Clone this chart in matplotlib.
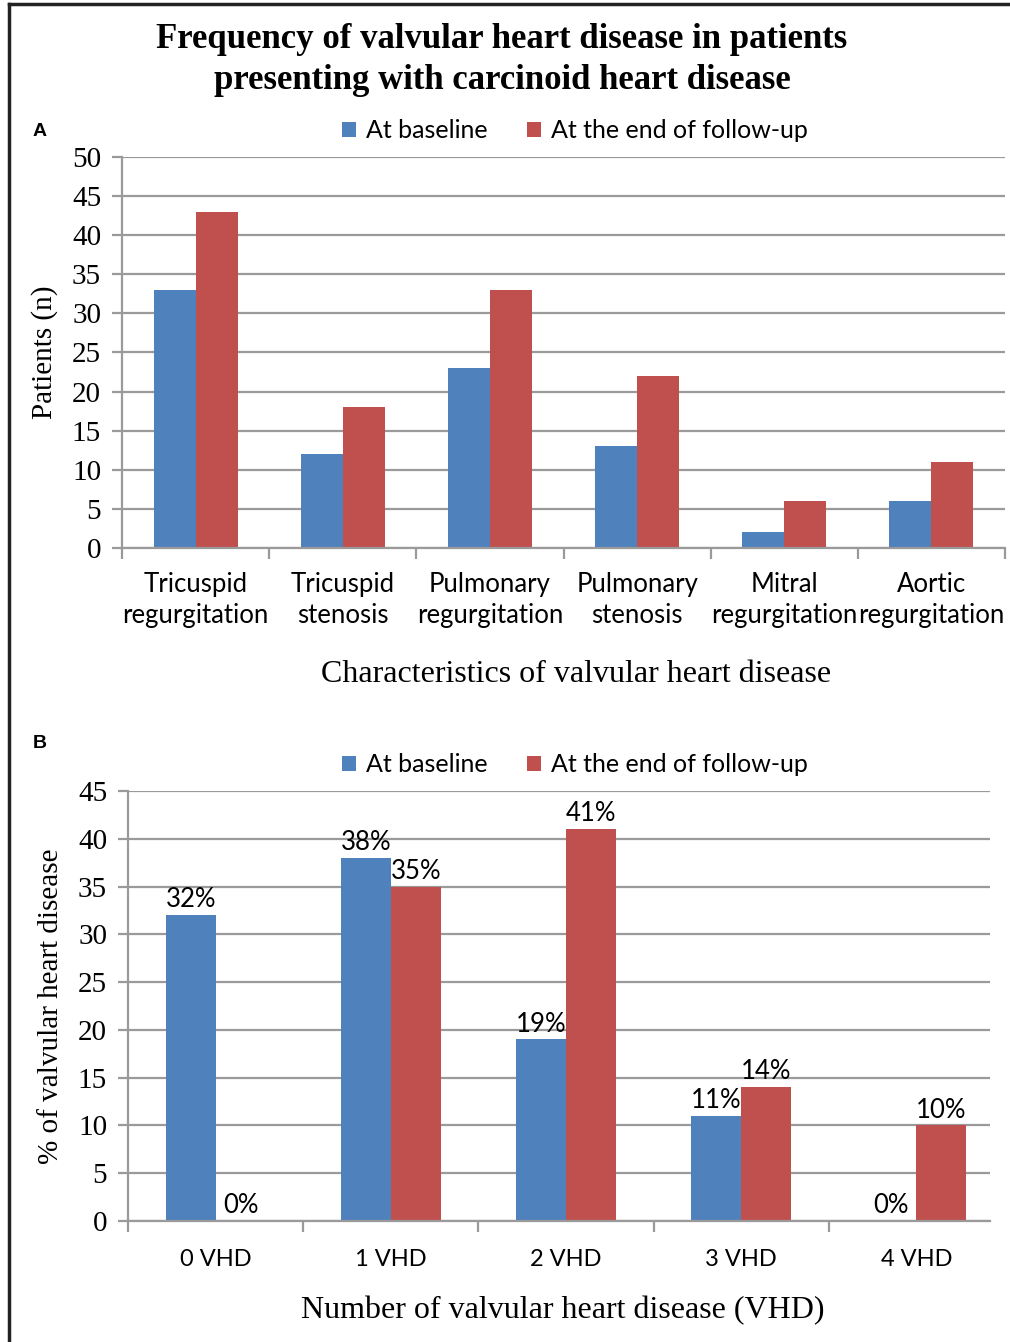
import matplotlib
matplotlib.use("Agg")
import matplotlib.pyplot as plt
from matplotlib.patches import Patch
from matplotlib.lines import Line2D

# ---- data ----
valve_labels = ["Tricuspid\nregurgitation", "Tricuspid\nstenosis", "Pulmonary\nregurgitation",
                "Pulmonary\nstenosis", "Mitral\nregurgitation", "Aortic\nregurgitation"]
valve_baseline = [33, 12, 23, 13, 2, 6]
valve_followup = [43, 18, 33, 22, 6, 11]

vhd_labels = ["0 VHD", "1 VHD", "2 VHD", "3 VHD", "4 VHD"]
vhd_baseline = [32, 38, 19, 11, 0]
vhd_followup = [0, 35, 41, 14, 10]

series_names = ["At baseline", "At the end of follow-up"]

# ---- style ----
BLUE = "#4F81BD"
RED = "#C0504D"
GRID = "#9a9a9a"
SERIF = "Liberation Serif"
SANS = "Lato"

W, H = 1010, 1342
fig = plt.figure(figsize=(W / 100, H / 100), dpi=100)


def fx(px):
    return px / W


def fy(py):
    return 1 - py / H


def style_axes(ax, ymax, ystep):
    ax.set_ylim(0, ymax)
    ax.set_yticks(range(0, ymax + 1, ystep))
    ax.grid(axis="y", color=GRID, linewidth=1.6)
    ax.set_axisbelow(True)
    for s in ("top", "right"):
        ax.spines[s].set_visible(False)
    for s in ("left", "bottom"):
        ax.spines[s].set_color(GRID)
        ax.spines[s].set_linewidth(1.6)
    ax.tick_params(axis="y", length=7, width=1.6, color=GRID, pad=8,
                   labelsize=21)
    for t in ax.get_yticklabels():
        t.set_fontfamily(SERIF)
    ax.tick_params(axis="x", which="major", length=0)
    ax.tick_params(axis="x", which="minor", length=8, width=1.6, color=GRID)


def add_legend(ycenter):
    handles = [Patch(facecolor=BLUE), Patch(facecolor=RED)]
    fig.legend(handles, series_names, loc="center",
               bbox_to_anchor=(fx(575), fy(ycenter)), ncol=2,
               frameon=False, handlelength=0.55, handleheight=0.55,
               handletextpad=0.4, columnspacing=1.6,
               prop={"family": SANS, "size": 18})


width = 0.285

# ---- panel A ----
axA = fig.add_axes([fx(122), fy(548), fx(1005 - 122), fy(157) - fy(548)])
xa = list(range(len(valve_labels)))
axA.bar([x - width / 2 for x in xa], valve_baseline, width, color=BLUE)
axA.bar([x + width / 2 for x in xa], valve_followup, width, color=RED)
axA.set_xlim(-0.5, len(valve_labels) - 0.5)
style_axes(axA, 50, 5)
axA.set_xticks(xa)
axA.set_xticklabels(valve_labels, fontfamily=SANS, fontsize=18.5, linespacing=1.3)
axA.tick_params(axis="x", which="major", pad=17)
axA.set_xticks([x - 0.5 for x in range(len(valve_labels) + 1)], minor=True)
axA.set_ylabel("Patients (n)", fontfamily=SERIF, fontsize=21, labelpad=10)
fig.text(fx(576), fy(674), "Characteristics of valvular heart disease",
         ha="center", va="center", fontfamily=SERIF, fontsize=23)
add_legend(131)
fig.text(fx(40), fy(131), "A", ha="center", va="center",
         fontfamily="Liberation Sans", fontweight="bold", fontsize=14)

# ---- panel B ----
axB = fig.add_axes([fx(128), fy(1221), fx(990 - 128), fy(791) - fy(1221)])
xb = list(range(len(vhd_labels)))
b1 = axB.bar([x - width / 2 for x in xb], vhd_baseline, width, color=BLUE)
b2 = axB.bar([x + width / 2 for x in xb], vhd_followup, width, color=RED)
axB.set_xlim(-0.5, len(vhd_labels) - 0.58)
style_axes(axB, 45, 5)
axB.set_xticks(xb)
axB.set_xticklabels(vhd_labels, fontfamily=SANS, fontsize=17)
axB.tick_params(axis="x", which="major", pad=20)
axB.set_xticks([x - 0.5 for x in range(len(vhd_labels))], minor=True)
for bars in (b1, b2):
    axB.bar_label(bars, labels=[f"{v:g}%" for v in bars.datavalues],
                  padding=2, fontfamily=SANS, fontsize=18.5)
axB.set_ylabel("% of valvular heart disease", fontfamily=SERIF, fontsize=21, labelpad=10)
fig.text(fx(563), fy(1311), "Number of valvular heart disease (VHD)",
         ha="center", va="center", fontfamily=SERIF, fontsize=23)
add_legend(765)
fig.text(fx(40), fy(743), "B", ha="center", va="center",
         fontfamily="Liberation Sans", fontweight="bold", fontsize=14)

# ---- title ----
fig.text(fx(502), fy(60),
         "Frequency of valvular heart disease in patients\npresenting with carcinoid heart disease",
         ha="center", va="center", fontfamily=SERIF, fontweight="bold",
         fontsize=25, linespacing=1.33)

# ---- frame lines (top and left) ----
fig.add_artist(Line2D([fx(9), 1], [fy(4), fy(4)], color="#222222", linewidth=2.5))
fig.add_artist(Line2D([fx(9), fx(9)], [0, fy(4)], color="#222222", linewidth=2.5))

fig.savefig("out.png", dpi=100)
